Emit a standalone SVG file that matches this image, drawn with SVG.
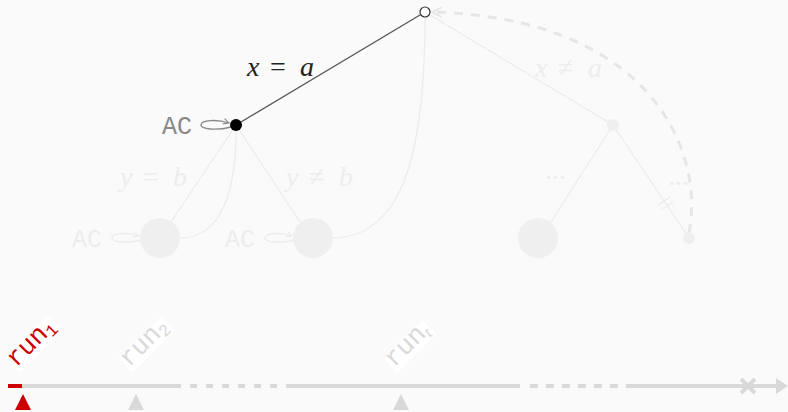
<svg xmlns="http://www.w3.org/2000/svg" width="788" height="412" viewBox="0 0 788 412">
<defs>
<style>
.math{font-family:"Liberation Serif","DejaVu Serif",serif;font-style:italic;font-size:28px}
.mathr{font-family:"Liberation Serif","DejaVu Serif",serif;font-size:28px}
.faded{fill:#efefef}
.fline{stroke:#ebebeb;stroke-width:1.2;fill:none}
.tt{font-family:"Liberation Mono","DejaVu Sans Mono",monospace}
.ac{font-family:"Liberation Mono","DejaVu Sans Mono",monospace;font-size:25px}
.tl{stroke:#d9d9d9;stroke-width:4;fill:none}
</style>
<marker id="ah" viewBox="0 0 10 10" refX="9" refY="5" markerWidth="7" markerHeight="7" orient="auto" markerUnits="userSpaceOnUse">
<path d="M1,1 L9,5 L1,9" fill="none" stroke="#888" stroke-width="1.5"/>
</marker>
<marker id="ahf" viewBox="0 0 10 10" refX="9" refY="5" markerWidth="7" markerHeight="7" orient="auto" markerUnits="userSpaceOnUse">
<path d="M1,1 L9,5 L1,9" fill="none" stroke="#ececec" stroke-width="1.5"/>
</marker>
<marker id="ahd" viewBox="0 0 10 10" refX="9" refY="5" markerWidth="12" markerHeight="12" orient="auto" markerUnits="userSpaceOnUse">
<path d="M1,1 L9,5 L1,9" fill="none" stroke="#e6e6e6" stroke-width="1.5"/>
</marker>
</defs>
<rect width="788" height="412" fill="#fafafa"/>

<g id="connectors">
<path class="fline" d="M236,125 L171,222"/>
<path class="fline" d="M236,125 L300,222"/>
<path class="fline" d="M180,238 C222,238 236,190 236,131"/>
<path class="fline" d="M332,238 C400,238 425,160 425,17"/>
<path class="fline" d="M425,12 L613,125"/>
<path class="fline" d="M613,125 L551,222"/>
<path class="fline" d="M613,125 L689,238"/>
<path class="fline" d="M658,205 L670,197 M661,210 L673,202"/>
<path d="M689,233 C705,150 650,18 432,12" fill="none" stroke="#e6e6e6" stroke-width="3" stroke-dasharray="9,8" marker-end="url(#ahd)"/>
<path d="M425,12 L236,125" stroke="#555" stroke-width="1.3" fill="none"/>
<path d="M231,127 C216,131 201,129 201,125 C201,120 217,119 229,123" fill="none" stroke="#888" stroke-width="1.3" marker-end="url(#ah)"/>
<path d="M141,240 C126,244 112,242 112,238 C112,233 127,232 139,236" fill="none" stroke="#ececec" stroke-width="1.3" marker-end="url(#ahf)"/>
<path d="M294,240 C279,244 265,242 265,238 C265,233 280,232 292,236" fill="none" stroke="#ececec" stroke-width="1.3" marker-end="url(#ahf)"/>
</g>

<g id="labels-edges">
<text x="247" y="76" class="math" fill="#222">x</text>
<text x="270" y="76" class="mathr" fill="#222">=</text>
<text x="300" y="76" class="math" fill="#222">a</text>
<text x="535" y="77" class="math" fill="#ededed">x</text>
<text x="558" y="77" class="mathr" fill="#ededed">≠</text>
<text x="588" y="77" class="math" fill="#ededed">a</text>
<text x="120" y="186" class="math" fill="#ededed">y</text>
<text x="143" y="186" class="mathr" fill="#ededed">=</text>
<text x="173" y="186" class="math" fill="#ededed">b</text>
<text x="286" y="186" class="math" fill="#ededed">y</text>
<text x="309" y="186" class="mathr" fill="#ededed">≠</text>
<text x="339" y="186" class="math" fill="#ededed">b</text>
<text x="545" y="179" class="mathr" fill="#ededed" font-size="16">...</text>
<text x="668" y="185" class="mathr" fill="#ededed" font-size="16">...</text>
</g>

<g id="node-root"><circle cx="425" cy="12" r="5" fill="#fff" stroke="#333" stroke-width="1.2"/></g>
<g id="node-a"><circle cx="236" cy="125" r="6" fill="#000"/><text x="162" y="134" class="ac" fill="#888">AC</text></g>
<g id="node-b1"><circle cx="160" cy="238" r="20" class="faded"/><text x="72" y="247" class="ac" fill="#ededed">AC</text></g>
<g id="node-b2"><circle cx="313" cy="238" r="20" class="faded"/><text x="225" y="247" class="ac" fill="#ededed">AC</text></g>
<g id="node-c"><circle cx="613" cy="125" r="6" class="faded"/></g>
<g id="node-c1"><circle cx="538" cy="238" r="20" class="faded"/></g>
<g id="node-c2"><circle cx="689" cy="238" r="6" class="faded"/></g>

<g id="timeline">
<path class="tl" d="M22,386 H181"/>
<path class="tl" d="M190,386 H281" stroke-dasharray="7,9"/>
<path class="tl" d="M286,386 H520"/>
<path class="tl" d="M530,386 H620" stroke-dasharray="8,8"/>
<path class="tl" d="M626,386 H776"/>
<path d="M776,378 L788,386 L776,394 Z" fill="#d9d9d9"/>
<path d="M741,379 L755,393 M755,379 L741,393" stroke="#d9d9d9" stroke-width="4"/>
<path d="M8,386 H22" stroke="#cc0000" stroke-width="4"/>
<path d="M23,394 L31,410 L15,410 Z" fill="#cc0000"/>
<path d="M136,394 L144,410 L128,410 Z" fill="#d9d9d9"/>
<path d="M401,394 L409,410 L393,410 Z" fill="#d9d9d9"/>
</g>

<g id="run-labels">
<g transform="translate(16,368) rotate(-45)">
<rect x="-1" y="-14" width="60" height="20" fill="#fff"/>
<text x="0" y="0" class="tt" font-size="26" fill="#cc0000">run<tspan font-size="17" dy="4">1</tspan></text>
</g>
<g transform="translate(129,368) rotate(-45)">
<rect x="-1" y="-14" width="60" height="20" fill="#fff"/>
<text x="0" y="0" class="tt" font-size="26" fill="#d9d9d9">run<tspan font-size="17" dy="4">2</tspan></text>
</g>
<g transform="translate(394,368) rotate(-45)">
<rect x="-1" y="-14" width="55" height="20" fill="#fff"/>
<text x="0" y="0" class="tt" font-size="26" fill="#d9d9d9">run<tspan font-size="17" dy="4" font-style="italic" font-family="Liberation Serif, serif">t</tspan></text>
</g>
</g>
</svg>
